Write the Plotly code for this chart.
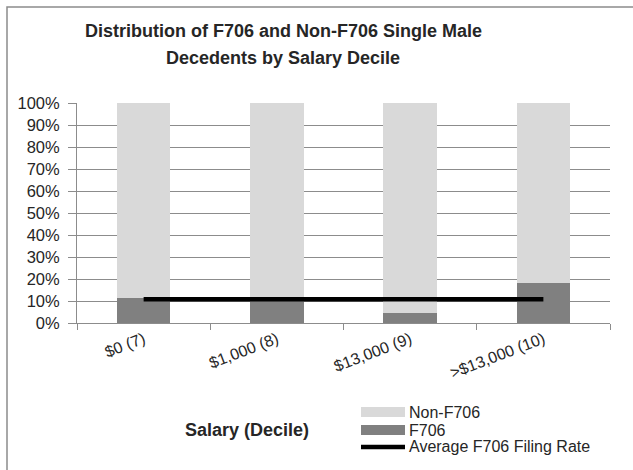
import plotly.graph_objects as go

categories = ["$0 (7)", "$1,000 (8)", "$13,000 (9)", ">$13,000 (10)"]
f706 = [11.5, 11.0, 4.4, 18.4]
non_f706 = [88.5, 89.0, 95.6, 81.6]
avg_rate = [10.8, 10.8, 10.8, 10.8]
y_ticks = [0, 10, 20, 30, 40, 50, 60, 70, 80, 90, 100]
y_tick_labels = ["0%", "10%", "20%", "30%", "40%", "50%", "60%", "70%", "80%", "90%", "100%"]

title_lines = ["Distribution of F706 and Non-F706 Single Male", "Decedents by Salary Decile"]
x_title = "Salary (Decile)"
series_names = ["Non-F706", "F706", "Average F706 Filing Rate"]
colors = ["#d9d9d9", "#808080", "#000000"]

FONT = "Liberation Sans, Arial, sans-serif"
TXT = "#262626"
GRID = "#8c8c8c"

W, H = 633, 470
L, R, T, B = 77, 23, 103, 147
pw, ph = W - L - R, H - T - B

def px_x(x):
    return (x - L) / pw

def px_y(y):
    return (H - B - y) / ph

fig = go.Figure()
fig.add_trace(go.Bar(x=categories, y=f706, name=series_names[1],
                     marker=dict(color=colors[1], line=dict(width=0)), showlegend=False))
fig.add_trace(go.Bar(x=categories, y=non_f706, name=series_names[0],
                     marker=dict(color=colors[0], line=dict(width=0)), showlegend=False))
fig.add_trace(go.Scatter(x=categories, y=avg_rate, name=series_names[2], mode="lines",
                         line=dict(color=colors[2], width=4.5), showlegend=False))

fig.update_layout(
    width=W, height=H,
    margin=dict(l=L, r=R, t=T, b=B),
    barmode="stack", bargap=0.6,
    paper_bgcolor="white", plot_bgcolor="white",
    font=dict(family=FONT, color=TXT),
)
fig.update_xaxes(showgrid=False, showline=True, linecolor=GRID, linewidth=1,
                 ticks="outside", tickson="boundaries", ticklen=6, tickcolor=GRID,
                 tickangle=-21, tickfont=dict(size=16, family=FONT, color=TXT))
fig.update_yaxes(range=[0, 100], tickmode="array", tickvals=y_ticks, ticktext=y_tick_labels,
                 showgrid=True, gridcolor=GRID, gridwidth=1,
                 showline=True, linecolor=GRID, linewidth=1,
                 ticks="outside", ticklen=8, tickcolor=GRID, zeroline=False,
                 ticklabelstandoff=5,
                 tickfont=dict(size=16.5, family=FONT, color=TXT))

# chart frame
fig.add_shape(type="rect", xref="paper", yref="paper",
              x0=px_x(7), x1=px_x(645), y0=px_y(480), y1=px_y(7),
              line=dict(color="#8c8c8c", width=1.5), fillcolor="rgba(0,0,0,0)", layer="below")

# title (two lines)
for line_text, ly in zip(title_lines, [31, 58]):
    fig.add_annotation(xref="paper", yref="paper", x=px_x(283), y=px_y(ly),
                       xanchor="center", yanchor="middle", showarrow=False,
                       text="<b>" + line_text + "</b>",
                       font=dict(size=18, family=FONT, color=TXT))

# axis title
fig.add_annotation(xref="paper", yref="paper", x=px_x(247), y=px_y(430),
                   xanchor="center", yanchor="middle", showarrow=False,
                   text="<b>" + x_title + "</b>", font=dict(size=18, family=FONT, color=TXT))

# custom legend
rows = [412, 430, 447]
for name, col, ry, kind in zip(series_names, colors, rows, ["bar", "bar", "line"]):
    if kind == "bar":
        fig.add_shape(type="rect", xref="paper", yref="paper",
                      x0=px_x(361), x1=px_x(405), y0=px_y(ry + 5), y1=px_y(ry - 5),
                      line=dict(width=0), fillcolor=col)
    else:
        fig.add_shape(type="line", xref="paper", yref="paper",
                      x0=px_x(361), x1=px_x(405), y0=px_y(ry), y1=px_y(ry),
                      line=dict(color=col, width=4.5))
    fig.add_annotation(xref="paper", yref="paper", x=px_x(407), y=px_y(ry),
                       xanchor="left", yanchor="middle", showarrow=False,
                       text=name, font=dict(size=16, family=FONT, color=TXT))

fig.write_html("out.html", config={"displayModeBar": False},
               post_script="document.body.style.margin='0';")
